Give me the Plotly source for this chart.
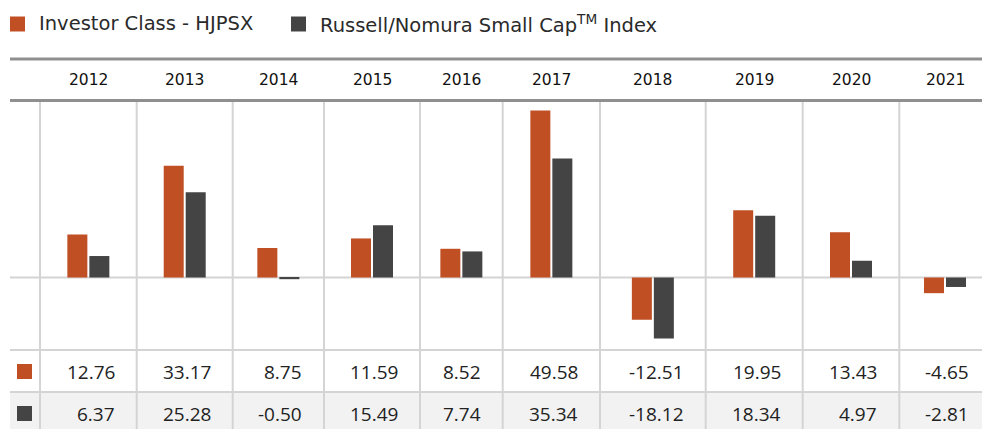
import plotly.graph_objects as go

# ---- data ----
years = ["2012", "2013", "2014", "2015", "2016", "2017", "2018", "2019", "2020", "2021"]
investor = [12.76, 33.17, 8.75, 11.59, 8.52, 49.58, -12.51, 19.95, 13.43, -4.65]
index_vals = [6.37, 25.28, -0.50, 15.49, 7.74, 35.34, -18.12, 18.34, 4.97, -2.81]
series_names = ["Investor Class - HJPSX", "Russell/Nomura Small Cap<sup>TM</sup> Index"]

# ---- layout / style (pixel units) ----
W, H = 982, 429
LEFT = 10
MARKER_COL = 30
COL_WIDTHS = [96.7, 96, 91.3, 96, 82.7, 97.3, 105.7, 97, 96.6, 91.4]
ORANGE = "#c04f24"
DARK = "#444444"
GRID = "#d4d4d4"
RULE = "#8f8f8f"
TITLE_FONT = "DejaVu Sans"
NUM_FONT = "Open Sans"

Y_TOP_RULE = 59
Y_HEAD_RULE = 100.5
Y_PLOT_TOP = 101
Y_PLOT_BOT = 350
Y_ROW2_LINE = 392
Y_ZERO = 277.5
PX_PER_UNIT = 3.37


def py(y):
    return 1 - y / H


# column boundaries
bounds = [LEFT + MARKER_COL]
for w in COL_WIDTHS:
    bounds.append(bounds[-1] + w)
centers = [(bounds[i] + bounds[i + 1]) / 2 for i in range(len(years))]

y_max = (Y_ZERO - Y_PLOT_TOP) / PX_PER_UNIT
y_min = -(Y_PLOT_BOT - Y_ZERO) / PX_PER_UNIT

fig = go.Figure()
fig.add_trace(go.Bar(x=centers, y=investor, width=20, offset=-21,
                     marker=dict(color=ORANGE, line=dict(width=0)),
                     name="Investor Class - HJPSX", hoverinfo="y"))
fig.add_trace(go.Bar(x=centers, y=index_vals, width=20, offset=1,
                     marker=dict(color=DARK, line=dict(width=0)),
                     name="Russell/Nomura Small Cap Index", hoverinfo="y"))

shapes = []
annotations = []

# row 2 background
shapes.append(dict(type="rect", xref="x", yref="paper", x0=LEFT, x1=W,
                   y0=py(H), y1=py(Y_ROW2_LINE), fillcolor="#f2f2f2",
                   line=dict(width=0), layer="below"))
# vertical lines
for b in bounds[:-1]:
    shapes.append(dict(type="line", xref="x", yref="paper", x0=b, x1=b,
                       y0=py(Y_PLOT_TOP), y1=py(H), line=dict(color=GRID, width=2),
                       layer="below"))
# zero line
shapes.append(dict(type="line", xref="x", yref="y", x0=LEFT, x1=W, y0=0, y1=0,
                   line=dict(color=GRID, width=2), layer="below"))
# row lines
for yy in [Y_PLOT_BOT, Y_ROW2_LINE]:
    shapes.append(dict(type="line", xref="x", yref="paper", x0=LEFT, x1=W,
                       y0=py(yy), y1=py(yy), line=dict(color=GRID, width=2),
                       layer="below"))
# header rules
for yy in [Y_TOP_RULE, Y_HEAD_RULE]:
    shapes.append(dict(type="line", xref="x", yref="paper", x0=LEFT, x1=W,
                       y0=py(yy), y1=py(yy), line=dict(color=RULE, width=3)))

# legend
legend_items = [(LEFT, ORANGE, series_names[0]), (291, DARK, series_names[1])]
for x0, col, txt in legend_items:
    shapes.append(dict(type="rect", xref="x", yref="paper", x0=x0, x1=x0 + 15,
                       y0=py(31.5), y1=py(16.5), fillcolor=col, line=dict(width=0)))
    annotations.append(dict(x=x0 + 27, y=py(24), xref="x", yref="paper",
                            text=txt, showarrow=False, xanchor="left", yanchor="middle",
                            font=dict(family=TITLE_FONT, size=19.5, color="#2a2a2a")))

# year headers
for c, yr in zip(centers, years):
    annotations.append(dict(x=c, y=py(80), xref="x", yref="paper", text=yr,
                            showarrow=False, xanchor="center", yanchor="middle",
                            font=dict(family=TITLE_FONT, size=15.5, color="#111111")))

# table rows
row_specs = [(371.5, ORANGE, investor), (413.5, DARK, index_vals)]
for yy, col, vals in row_specs:
    shapes.append(dict(type="rect", xref="x", yref="paper", x0=17, x1=32,
                       y0=py(yy + 7.5), y1=py(yy - 7.5), fillcolor=col, line=dict(width=0)))
    for i, v in enumerate(vals):
        annotations.append(dict(x=bounds[i + 1] - 20, y=py(yy), xref="x", yref="paper",
                                text=f"{v:.2f}", showarrow=False, xanchor="right",
                                yanchor="middle",
                                font=dict(family=NUM_FONT, size=19, color="#222222")))

fig.update_layout(
    width=W, height=H, margin=dict(l=0, r=0, t=0, b=0),
    paper_bgcolor="white", plot_bgcolor="rgba(0,0,0,0)",
    showlegend=False, barmode="overlay",
    xaxis=dict(range=[0, W], domain=[0, 1], visible=False, fixedrange=True),
    yaxis=dict(range=[y_min, y_max], domain=[py(Y_PLOT_BOT), py(Y_PLOT_TOP)],
               visible=False, fixedrange=True),
    shapes=shapes, annotations=annotations,
)

fig.write_html("out.html", config={"displayModeBar": False})

# remove the default page margin so the figure fills the window exactly
with open("out.html", encoding="utf-8") as f:
    html = f.read()
html = html.replace("<head>", "<head><style>html,body{margin:0;padding:0;overflow:hidden;}</style>", 1)
with open("out.html", "w", encoding="utf-8") as f:
    f.write(html)
